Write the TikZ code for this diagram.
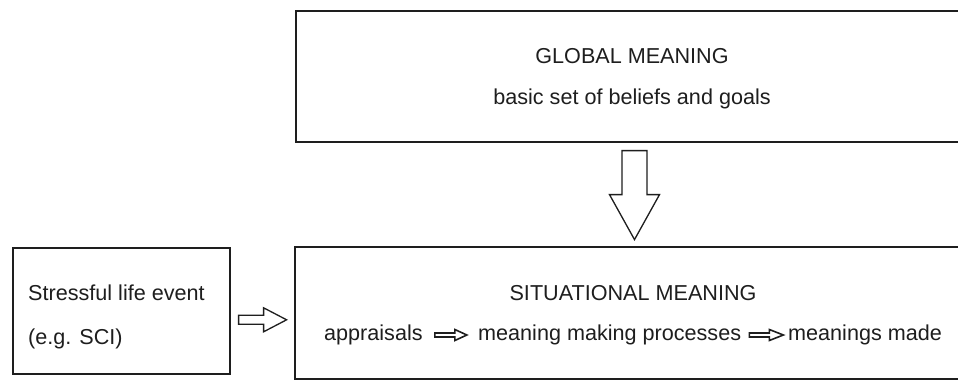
\documentclass[tikz,border=0pt]{standalone}
\usepackage{fontspec}
\setmainfont{Liberation Sans}
\usetikzlibrary{calc}
\definecolor{ink}{HTML}{1E1E1E}
\tikzset{
  box/.style={draw=ink, line width=1.6pt, inner sep=0pt},
  lbl/.style={inner sep=0pt, text=ink, font=\fontsize{21.6}{26}\selectfont},
  blockarrow/.style={draw=ink, line width=1.3pt, fill=white, line join=miter},
  smallarrow/.style={draw=ink, line width=1.6pt, fill=white, line join=miter},
}
\begin{document}
\begin{tikzpicture}[x=1pt,y=-1pt]
\useasboundingbox[fill=white] (0,0) rectangle (958,380);
\clip (0,0) rectangle (958,380);
% boxes
\node[box, anchor=north west, minimum width=680pt, minimum height=131pt] (global) at (295,10) {};
\node[box, anchor=north west, minimum width=680pt, minimum height=132pt] (situ) at (294,246) {};
\node[box, anchor=north west, minimum width=217pt, minimum height=126pt] (event) at (12,247) {};
% texts
\node[lbl, anchor=base] (gt) at (632,63) {GLOBAL MEANING};
\node[lbl, anchor=base] (gs) at (632,104) {basic set of beliefs and goals};
\node[lbl, anchor=base west] (e1) at (28,300) {Stressful life event};
\node[lbl, anchor=base west] (e2) at (28,344) {(e.g. SCI)};
\node[lbl, anchor=base] (st) at (633,300) {SITUATIONAL MEANING};
\node[lbl, anchor=base west] (s1) at (324,340) {appraisals};
\node[lbl, anchor=base west] (s2) at (478,340) {meaning making processes};
\node[lbl, anchor=base west] (s3) at (788,340) {meanings made};
% down block arrow (global -> situational)
\coordinate (dA) at ($(global.south west)!0!(global.south west)+(339.5,8)$);
\draw[blockarrow] ($(dA)+(-12.5,0)$) -- ($(dA)+(12.5,0)$) -- ($(dA)+(12.5,44)$) -- ($(dA)+(25,44)$)
  -- ($(dA)+(0,89)$) -- ($(dA)+(-25,44)$) -- ($(dA)+(-12.5,44)$) -- cycle;
% right block arrow (event -> situational)
\coordinate (rA) at ($(event.east)+(8,9)$);
\draw[blockarrow] ($(rA)+(0,-4.5)$) -- ($(rA)+(25,-4.5)$) -- ($(rA)+(25,-12)$) -- ($(rA)+(48,0)$)
  -- ($(rA)+(25,12)$) -- ($(rA)+(25,4.5)$) -- ($(rA)+(0,4.5)$) -- cycle;
% small arrows in the text line
\coordinate (a1) at ($(s1.base east)+(12,-5)$);
\draw[smallarrow] ($(a1)+(0,-2)$) -- ($(a1)+(20,-2)$) -- ($(a1)+(20,-5.5)$) -- ($(a1)+(32,0)$)
  -- ($(a1)+(20,5.5)$) -- ($(a1)+(20,2)$) -- ($(a1)+(0,2)$) -- cycle;
\coordinate (a2) at ($(s2.base east)+(8,-5)$);
\draw[smallarrow] ($(a2)+(0,-2)$) -- ($(a2)+(20,-2)$) -- ($(a2)+(20,-5.5)$) -- ($(a2)+(34,0)$)
  -- ($(a2)+(20,5.5)$) -- ($(a2)+(20,2)$) -- ($(a2)+(0,2)$) -- cycle;
\end{tikzpicture}
\end{document}
